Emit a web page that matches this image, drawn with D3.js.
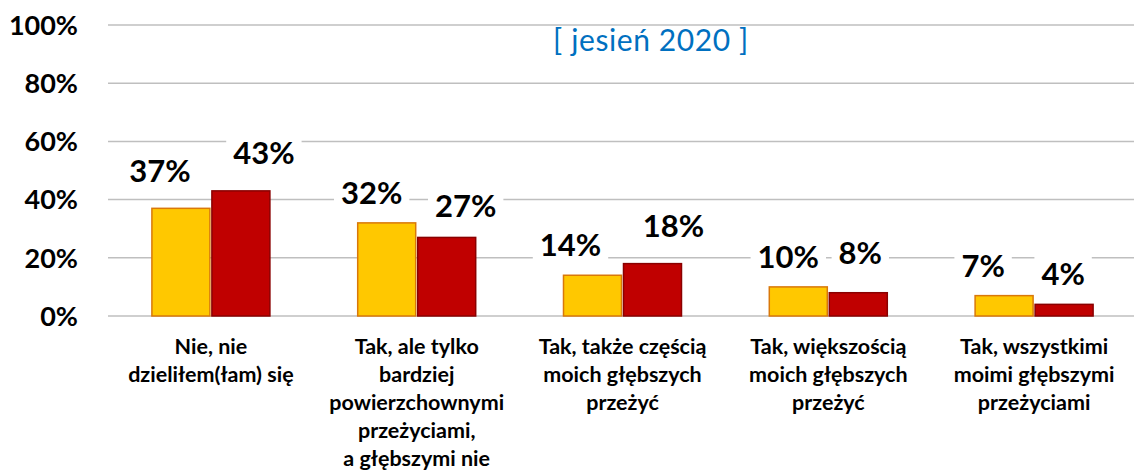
<!DOCTYPE html>
<html>
<head>
<meta charset="utf-8">
<script src="https://cdn.jsdelivr.net/npm/d3@7"></script>
<style>
  body { margin: 0; background: #fff; }
  svg { display: block; font-family: Lato, "Open Sans", sans-serif; }
  .grid line { stroke: #bfbfbf; stroke-width: 1.5; }
  .y-tick { font-weight: 700; font-size: 27px; fill: #000; }
  .val { font-weight: 700; font-size: 31px; fill: #000; }
  .cat { font-weight: 700; font-size: 21.5px; fill: #000; }
  .title { font-size: 30px; letter-spacing: 0.6px; fill: #0070c0; }
</style>
</head>
<body>
<svg id="chart" width="1134" height="471"></svg>
<script>
const categories = [
  'Nie, nie\ndzieliłem(łam) się',
  'Tak, ale tylko\nbardziej\npowierzchownymi\nprzeżyciami,\na głębszymi nie',
  'Tak, także częścią\nmoich głębszych\nprzeżyć',
  'Tak, większością\nmoich głębszych\nprzeżyć',
  'Tak, wszystkimi\nmoimi głębszymi\nprzeżyciami'
];
const seriesNames = ['seria 1', 'seria 2'];
const seriesA = [37, 32, 14, 10, 7];
const seriesB = [43, 27, 18, 8, 4];
const yTicks = [0, 20, 40, 60, 80, 100];
const titleText = '[ jesień 2020 ]';

// hand-placed data labels in the original: [dx from bar centre, gap above bar]
const labelNudge = [
  [[-21, 26], [23, 27]],
  [[-15, 19], [19, 20]],
  [[-22, 19], [21, 27]],
  [[-10, 19], [2, 29]],
  [[-21, 19], [-1, 19]]
];

const fills = ['#ffc800', '#c00000'];
const strokes = ['#d9780a', '#8a0000'];

const svg = d3.select('#chart');
const margin = {left: 108, right: -3, top: 25, bottom: 155};
const width = 1134 - margin.left - margin.right;
const height = 471 - margin.top - margin.bottom;

const g = svg.append('g')
  .attr('transform', `translate(${margin.left},${margin.top})`);

const x = d3.scaleBand()
  .domain(d3.range(categories.length))
  .range([0, width]);

const barW = 59;
const x1 = d3.scaleBand()
  .domain([0, 1])
  .range([x.bandwidth() / 2 - barW - 1, x.bandwidth() / 2 + barW + 1]);

const y = d3.scaleLinear()
  .domain([0, 100])
  .range([height, 0]);

// gridlines
g.append('g')
  .attr('class', 'grid')
  .selectAll('line')
  .data(yTicks)
  .join('line')
    .attr('x1', 0)
    .attr('x2', width)
    .attr('y1', (d) => y(d))
    .attr('y2', (d) => y(d));

// y tick labels
g.append('g')
  .selectAll('text')
  .data(yTicks)
  .join('text')
    .attr('class', 'y-tick')
    .attr('x', -30)
    .attr('y', (d) => y(d))
    .attr('dy', '0.36em')
    .attr('text-anchor', 'end')
    .text((d) => `${d}%`);

const rows = categories.map((c, i) => ({
  i,
  values: [seriesA[i], seriesB[i]]
}));

const groups = g.selectAll('.group')
  .data(rows)
  .join('g')
    .attr('class', 'group')
    .attr('transform', (d) => `translate(${x(d.i)},0)`);

groups.selectAll('rect')
  .data((d) => d.values.map((v, s) => ({v, s, i: d.i})))
  .join('rect')
    .attr('x', (d) => x1(d.s) + 1)
    .attr('width', x1.bandwidth() - 2)
    .attr('y', (d) => y(d.v))
    .attr('height', (d) => height - y(d.v))
    .attr('fill', (d) => fills[d.s])
    .attr('stroke', (d) => strokes[d.s])
    .attr('stroke-width', 1.5);

// value labels with white boxes (they cut the gridlines, as in the original)
const labels = groups.selectAll('.lab')
  .data((d) => d.values.map((v, s) => ({v, s, i: d.i})))
  .join('g')
    .attr('class', 'lab')
    .attr('transform', (d) => {
      const [dx, gap] = labelNudge[d.i][d.s];
      return `translate(${x1(d.s) + x1.bandwidth() / 2 + dx},${y(d.v) - gap})`;
    });

labels.append('text')
  .attr('class', 'val')
  .attr('text-anchor', 'middle')
  .text((d) => `${d.v}%`);

labels.each(function () {
  const lab = d3.select(this);
  const bb = lab.select('text').node().getBBox();
  lab.insert('rect', 'text')
    .attr('x', bb.x - 7)
    .attr('y', bb.y - 3)
    .attr('width', bb.width + 14)
    .attr('height', bb.height + 5)
    .attr('fill', '#fff');
});

// category labels
const cat = g.append('g')
  .selectAll('text')
  .data(categories)
  .join('text')
    .attr('class', 'cat')
    .attr('text-anchor', 'middle')
    .attr('transform', (d, i) => `translate(${x(i) + x.bandwidth() / 2},${height + 38})`);

cat.selectAll('tspan')
  .data((d) => d.split('\n'))
  .join('tspan')
    .attr('x', 0)
    .attr('y', (d, k) => k * 28)
    .text((d) => d);

// title
svg.append('text')
  .attr('class', 'title')
  .attr('x', 651)
  .attr('y', 51)
  .attr('text-anchor', 'middle')
  .text(titleText);
</script>
</body>
</html>
